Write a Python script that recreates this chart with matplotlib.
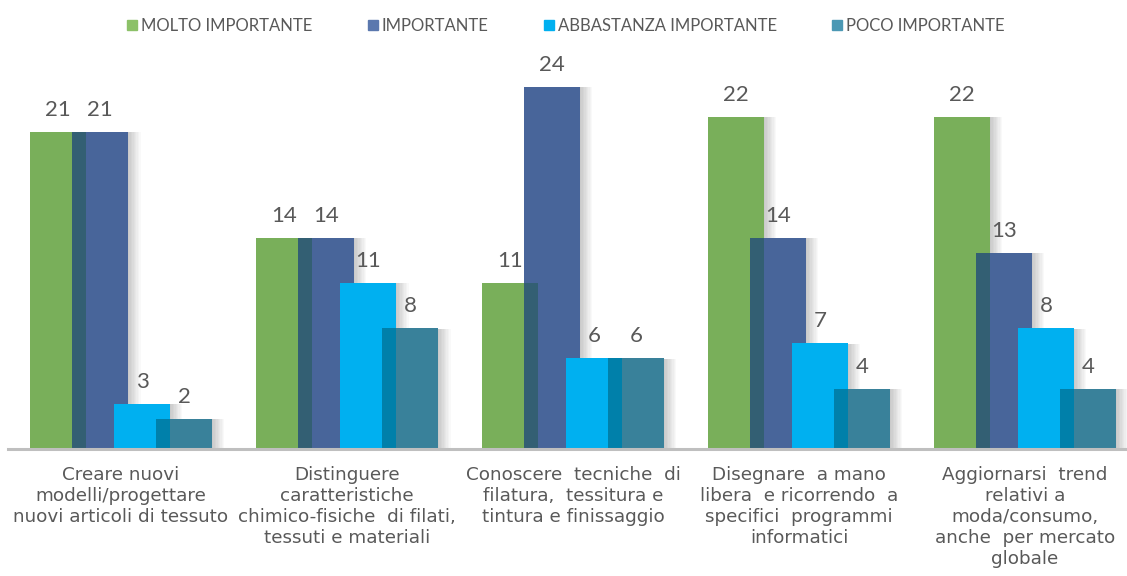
import matplotlib
matplotlib.use("Agg")
import matplotlib.pyplot as plt
import matplotlib.patheffects as pe
from matplotlib.lines import Line2D
import numpy as np

categories = [
    "Creare nuovi\nmodelli/progettare\nnuovi articoli di tessuto",
    "Distinguere\ncaratteristiche\nchimico-fisiche  di filati,\ntessuti e materiali",
    "Conoscere  tecniche  di\nfilatura,  tessitura e\ntintura e finissaggio",
    "Disegnare  a mano\nlibera  e ricorrendo  a\nspecifici  programmi\ninformatici",
    "Aggiornarsi  trend\nrelativi a\nmoda/consumo,\nanche  per mercato\nglobale",
]
series_names = ["MOLTO IMPORTANTE", "IMPORTANTE", "ABBASTANZA IMPORTANTE", "POCO IMPORTANTE"]
molto = [21, 14, 11, 22, 22]
importante = [21, 14, 24, 14, 13]
abbastanza = [3, 11, 6, 7, 8]
poco = [2, 8, 6, 4, 4]

bar_colors = ["#79AF5A", "#48659A", "#00B0F0", "#39819A"]
legend_colors = ["#8CC168", "#5B78AE", "#00B0F0", "#4B98B4"]
overlap_colors = {0: "#335F73", 2: "#0080AA"}
text_color = "#595959"

FONT = ["Lato", "DejaVu Sans"]
plt.rcParams["font.family"] = FONT

W, H = 1127, 576
fig = plt.figure(figsize=(W / 100, H / 100), dpi=100)
base_px = 449
ppu = 15.1
ymax = 26
left_px, right_px = 8, 1138
ax = fig.add_axes([left_px / W, (H - base_px) / H, (right_px - left_px) / W, ymax * ppu / H])
ax.set_xlim(-0.5, 4.5)
ax.set_ylim(0, ymax)

data = [molto, importante, abbastanza, poco]
x = np.arange(len(categories))
unit = (right_px - left_px) / 5.0
width = 56 / unit
offsets = [(-63 + 42 * i) / unit for i in range(4)]

shadow = [pe.SimplePatchShadow(offset=(k, -0.4), shadow_rgbFace="#000000", alpha=0.022)
          for k in np.arange(1, 10, 1.0)]

for i in range(4):
    ax.bar(x + offsets[i], data[i], width=width, color=bar_colors[i], zorder=2 + i,
           path_effects=shadow + [pe.Normal()], linewidth=0)

# darker overlap zones (green under blue, cyan under teal)
for i in (0, 2):
    ov_left = x + offsets[i + 1] - width / 2
    ov_w = (offsets[i] + width / 2) - (offsets[i + 1] - width / 2)
    hts = np.minimum(data[i], data[i + 1])
    ax.bar(ov_left, hts, width=ov_w, align="edge", color=overlap_colors[i], zorder=10, linewidth=0)

# value labels
for i in range(4):
    for xi, v in zip(x + offsets[i], data[i]):
        ax.annotate(str(v), (xi, v), xytext=(0, 11.5), textcoords="offset points",
                    ha="center", va="baseline", fontsize=16, color=text_color, zorder=20)

for s in ["top", "right", "left"]:
    ax.spines[s].set_visible(False)
ax.spines["bottom"].set_color("#BFBFBF")
ax.spines["bottom"].set_linewidth(2.2)
ax.spines["bottom"].set_zorder(30)
ax.set_yticks([])
ax.set_xticks(x)
ax.set_xticklabels(categories, fontsize=13.2, color=text_color, linespacing=1.2, ha="center",
                   family=["DejaVu Sans"])
ax.tick_params(axis="x", length=0, pad=12.5)

handles = [Line2D([], [], marker="s", linestyle="none", markersize=7.5,
                  markerfacecolor=c, markeredgecolor=c) for c in legend_colors]
fig.legend(handles, series_names, loc="center", bbox_to_anchor=(566 / W, 1 - 26 / H),
           ncol=4, frameon=False, fontsize=12, labelcolor=text_color,
           handlelength=0.6, handletextpad=0.25, columnspacing=3.3)

fig.savefig("out.png", dpi=100)
